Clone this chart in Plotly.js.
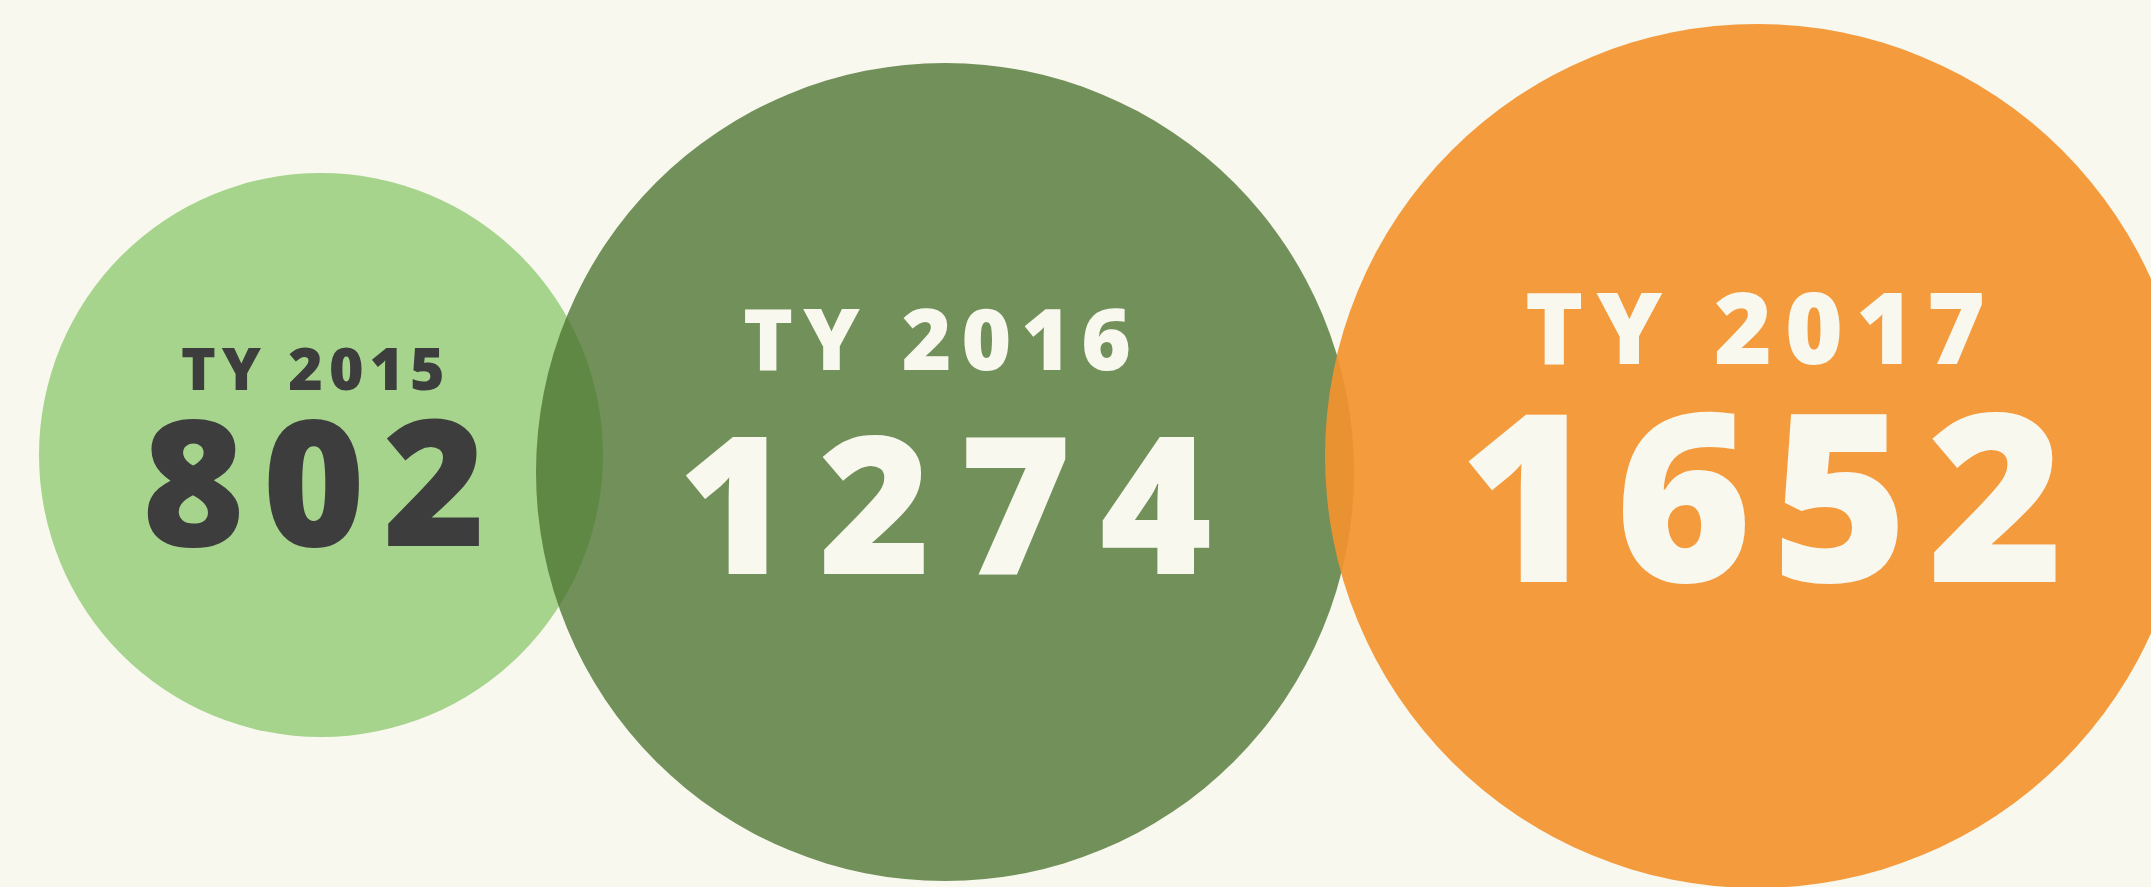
<!DOCTYPE html>
<html>
<head>
<meta charset="utf-8">
<script src="https://cdn.plot.ly/plotly-3.0.1.min.js"></script>
<style>
  html, body { margin: 0; padding: 0; background: #f8f8ee; }
  #chart { width: 2151px; height: 887px; }
</style>
</head>
<body>
<div id="chart"></div>
<script>
// ---- data ----
const years = ['TY 2015', 'TY 2016', 'TY 2017'];
const totals = [802, 1274, 1652];

// ---- layout / style (pixel space) ----
const centerX = [321, 945, 1757];
const centerY = [455, 472, 456];
const diameters = [564, 818, 864];
const fillColors = ['#a6d48c', 'rgb(76,115,49)', 'rgb(243,146,47)'];
const fillOpacity = [1, 0.79, 0.92];
const textColors = ['#3d3d3d', '#f8f8ee', '#f8f8ee'];
const labelSizes = [59, 85, 99];
const valueSizes = [175, 192, 234];
const labelSpacing = [6, 10, 13];
const valueSpacing = [18, 28, 19];
const labelDx = [-8, -8, -2];
const valueDx = [-7, 0, 4];
const labelBaseline = [391, 371, 365];
const valueBaseline = [547, 575, 583];
const DESC = 0.293; // Open Sans descent (em)
const FONT = 'Open Sans, Lato, sans-serif';

const trace = {
  type: 'scatter',
  mode: 'markers',
  x: centerX,
  y: centerY,
  marker: {
    size: diameters,
    sizemode: 'diameter',
    color: fillColors,
    opacity: fillOpacity,
    line: { width: 0 }
  },
  hoverinfo: 'skip',
  cliponaxis: true
};

const annotations = [];
years.forEach((yr, i) => {
  annotations.push({
    x: centerX[i] + labelDx[i],
    y: labelBaseline[i] + DESC * labelSizes[i],
    xref: 'x', yref: 'y',
    text: '<span style="letter-spacing:' + labelSpacing[i] + 'px">' + yr + '</span>',
    showarrow: false,
    xanchor: 'center', yanchor: 'bottom',
    xshift: labelSpacing[i] / 2,
    borderpad: 0,
    font: { family: FONT, size: labelSizes[i], color: textColors[i], weight: 800 }
  });
  annotations.push({
    x: centerX[i] + valueDx[i],
    y: valueBaseline[i] + DESC * valueSizes[i],
    xref: 'x', yref: 'y',
    text: '<span style="letter-spacing:' + valueSpacing[i] + 'px">' + totals[i] + '</span>',
    showarrow: false,
    xanchor: 'center', yanchor: 'bottom',
    xshift: valueSpacing[i] / 2,
    borderpad: 0,
    font: { family: FONT, size: valueSizes[i], color: textColors[i], weight: 800 }
  });
});

const layout = {
  width: 2151, height: 887,
  margin: { l: 0, r: 0, t: 0, b: 0, pad: 0 },
  paper_bgcolor: '#f8f8ee',
  plot_bgcolor: '#f8f8ee',
  showlegend: false,
  xaxis: { range: [0, 2151], visible: false, fixedrange: true },
  yaxis: { range: [887, 0], visible: false, fixedrange: true },
  annotations: annotations
};

Plotly.newPlot('chart', [trace], layout, { displayModeBar: false, staticPlot: true });
</script>
</body>
</html>
